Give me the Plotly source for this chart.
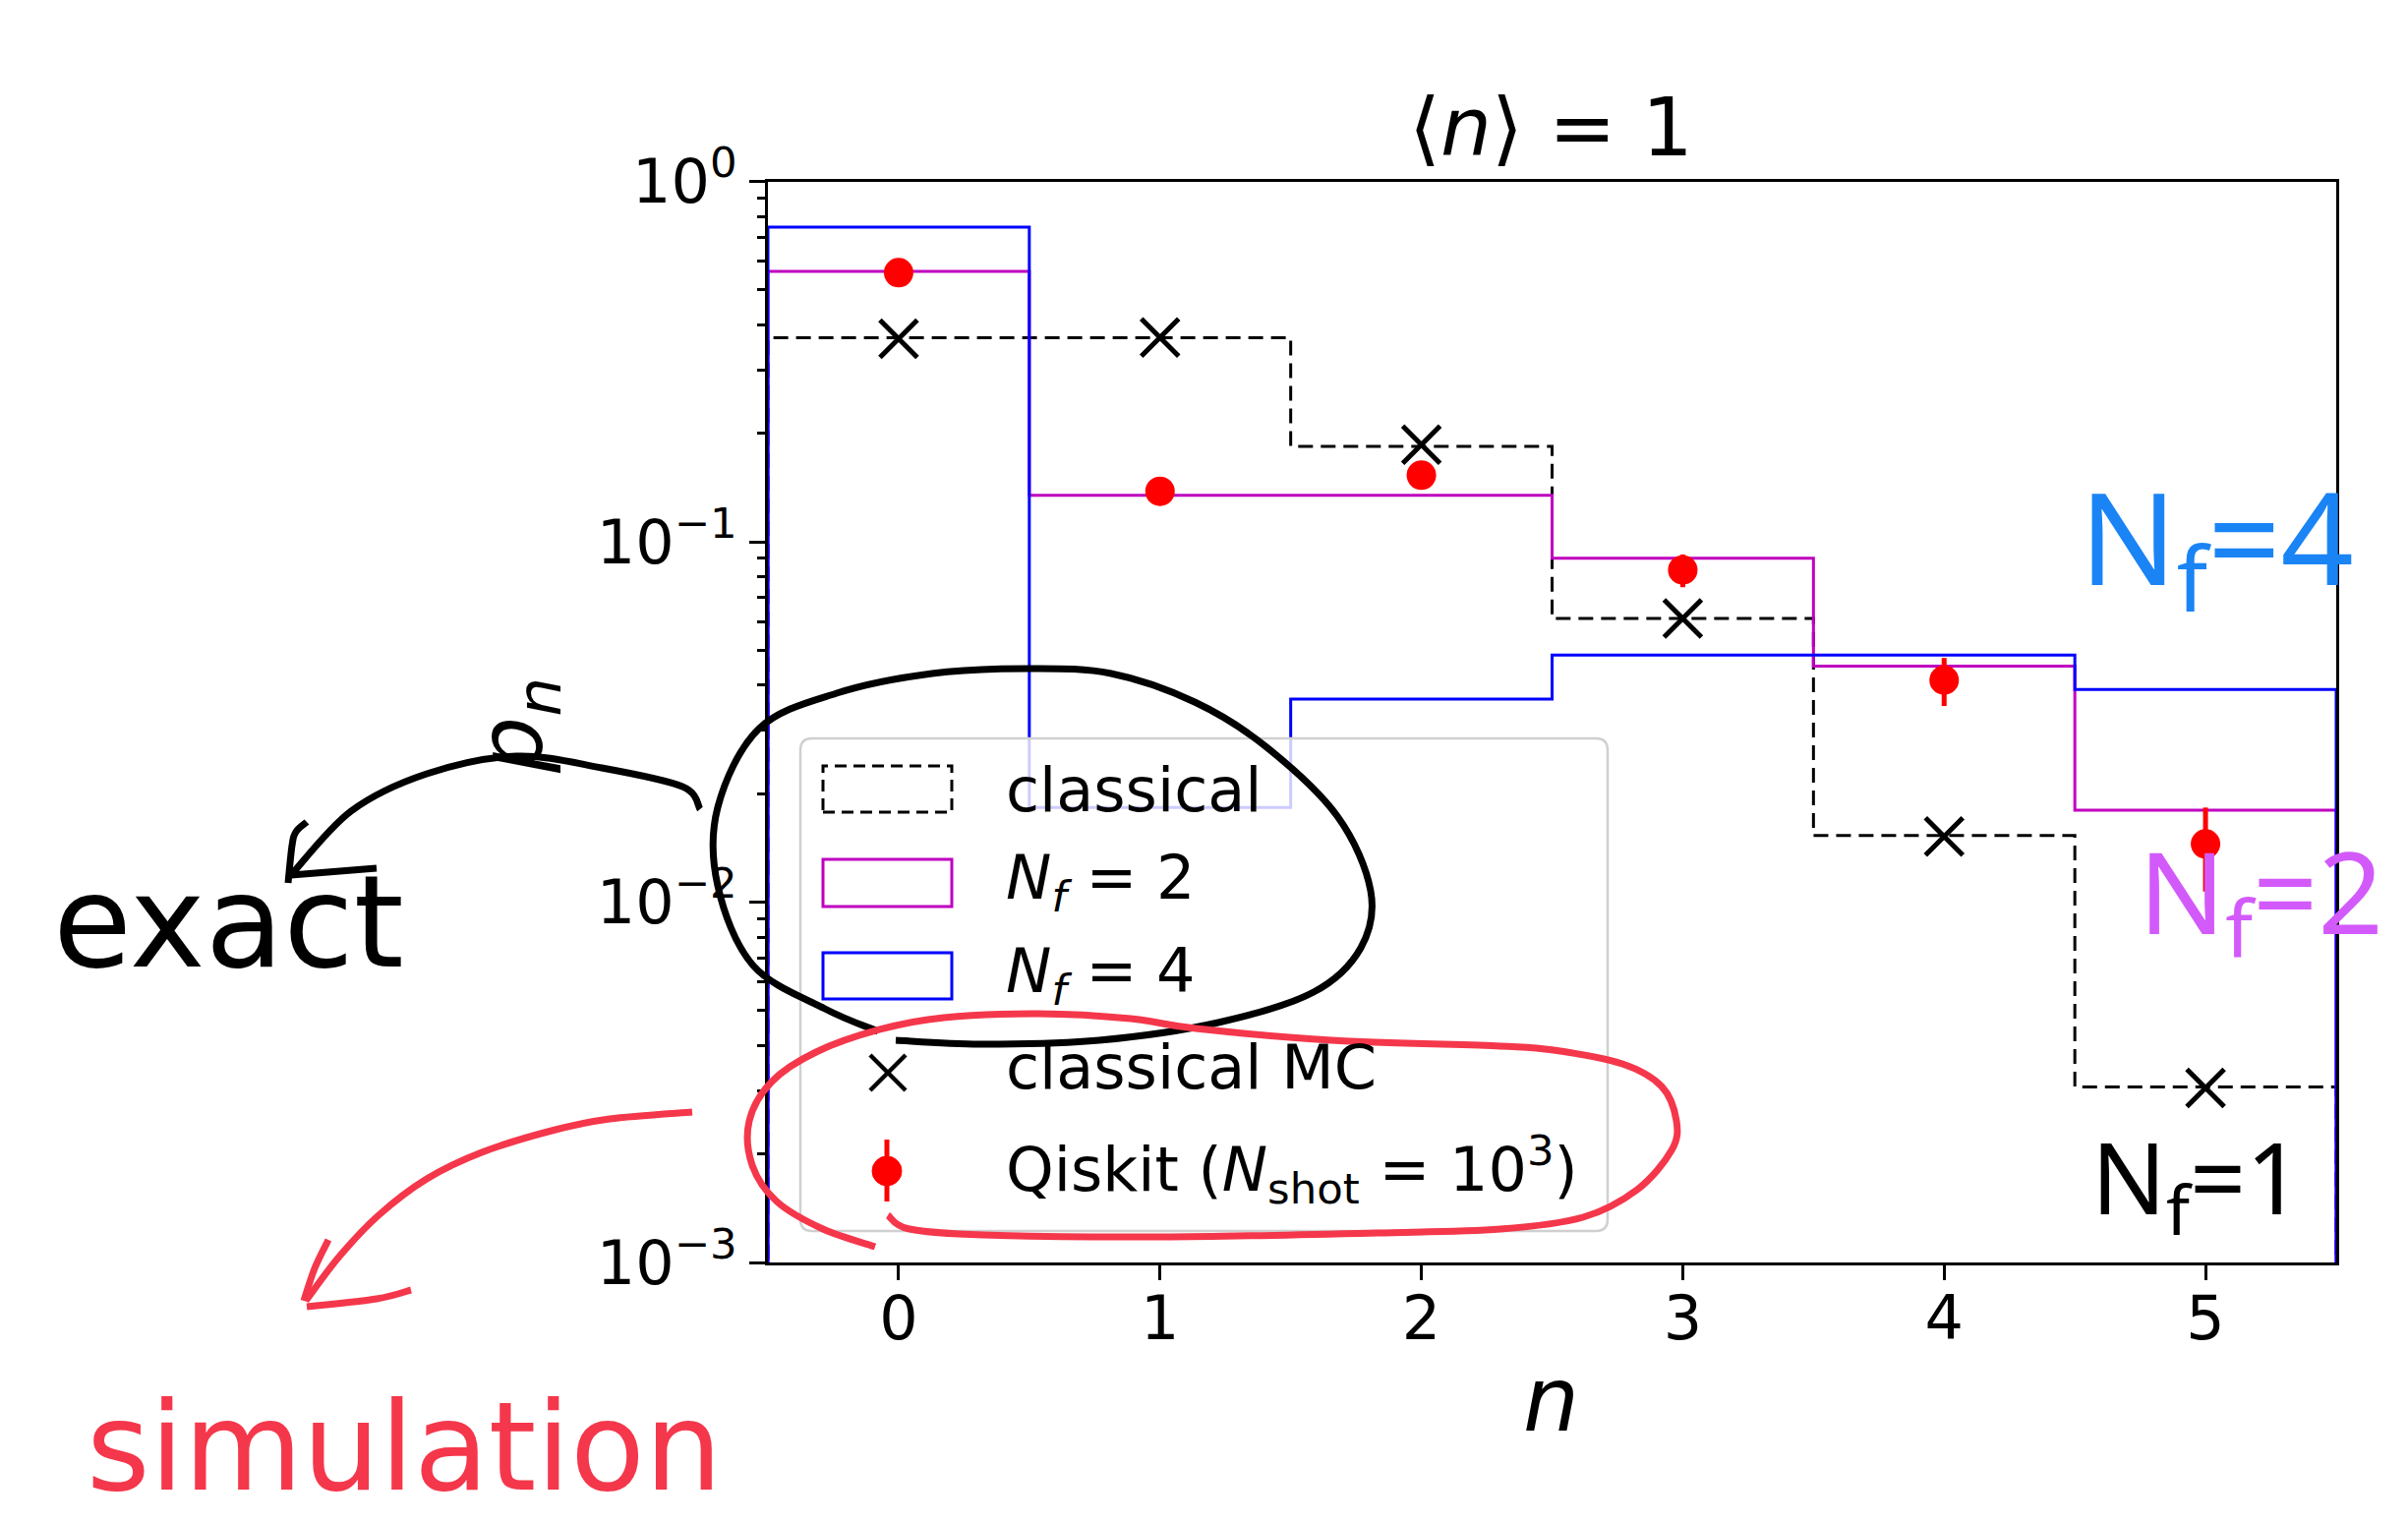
import plotly.graph_objects as go

# ---------------------------------------------------------------- data
n_vals = [0, 1, 2, 3, 4, 5]
bin_edges = [-0.5, 0.5, 1.5, 2.5, 3.5, 4.5, 5.5]

p_classical = [0.368, 0.368, 0.184, 0.0613, 0.0153, 0.00307]   # exact, N_f = 1
p_nf2 = [0.563, 0.1345, 0.1345, 0.0900, 0.0452, 0.0180]        # exact, N_f = 2
p_nf4 = [0.747, 0.0183, 0.0366, 0.0485, 0.0485, 0.0389]        # exact, N_f = 4
p_mc = [0.366, 0.369, 0.186, 0.0613, 0.0152, 0.00305]          # classical Monte Carlo
p_qiskit = [0.558, 0.138, 0.153, 0.0835, 0.0413, 0.0145]       # Qiskit, 10^3 shots
err_qiskit = [0.0157, 0.0109, 0.0114, 0.0087, 0.0063, 0.0038]

y_tickvals = [1e-3, 1e-2, 1e-1, 1.0]
y_ticktext = ["10<sup>\u22123</sup>", "10<sup>\u22122</sup>", "10<sup>\u22121</sup>", "10<sup>0</sup>"]

# ---------------------------------------------------------------- canvas
W, H = 2449, 1550
FONT = "DejaVu Sans"
HAND = "Noto Sans"
AX_L, AX_R, AX_T, AX_B = 781, 2376, 184.5, 1284

MAGENTA = "#BF00BF"
BLUE = "#0000FF"
RED = "#FF0000"
INK_RED = "#F5374B"
INK_BLUE = "#1A84F5"
INK_PURPLE = "#D35AFA"


def to_paper(x, y):
    return x / W, 1 - y / H


def step_outline(values, floor=1e-5):
    """Histogram-style outline (histtype='step') for use with line_shape='hv'."""
    xs = [bin_edges[0]] + bin_edges[:-1] + [bin_edges[-1], bin_edges[-1]]
    ys = [floor] + list(values) + [values[-1], floor]
    return xs, ys


def smooth_path(points):
    pts = [to_paper(x, y) for x, y in points]
    d = "M {:.5f},{:.5f}".format(*pts[0])
    for i in range(len(pts) - 1):
        p0 = pts[i - 1] if i > 0 else pts[i]
        p1 = pts[i]
        p2 = pts[i + 1]
        p3 = pts[i + 2] if i + 2 < len(pts) else p2
        c1 = (p1[0] + (p2[0] - p0[0]) / 6, p1[1] + (p2[1] - p0[1]) / 6)
        c2 = (p2[0] - (p3[0] - p1[0]) / 6, p2[1] - (p3[1] - p1[1]) / 6)
        d += " C {:.5f},{:.5f} {:.5f},{:.5f} {:.5f},{:.5f}".format(*c1, *c2, *p2)
    return d


def poly_path(points):
    pts = [to_paper(x, y) for x, y in points]
    return "M " + " L ".join("{:.5f},{:.5f}".format(*p) for p in pts)


def rounded_rect_path(x0, y0, x1, y1, r):
    a = to_paper
    d = "M {:.5f},{:.5f}".format(*a(x0 + r, y0))
    d += " L {:.5f},{:.5f}".format(*a(x1 - r, y0))
    d += " Q {:.5f},{:.5f} {:.5f},{:.5f}".format(*a(x1, y0), *a(x1, y0 + r))
    d += " L {:.5f},{:.5f}".format(*a(x1, y1 - r))
    d += " Q {:.5f},{:.5f} {:.5f},{:.5f}".format(*a(x1, y1), *a(x1 - r, y1))
    d += " L {:.5f},{:.5f}".format(*a(x0 + r, y1))
    d += " Q {:.5f},{:.5f} {:.5f},{:.5f}".format(*a(x0, y1), *a(x0, y1 - r))
    d += " L {:.5f},{:.5f}".format(*a(x0, y0 + r))
    d += " Q {:.5f},{:.5f} {:.5f},{:.5f} Z".format(*a(x0, y0), *a(x0 + r, y0))
    return d


fig = go.Figure()

# ---------------------------------------------------------------- step histograms
for vals, color, dash in [(p_classical, "black", "15px,8px"),
                          (p_nf2, MAGENTA, "solid"),
                          (p_nf4, BLUE, "solid")]:
    xs, ys = step_outline(vals)
    fig.add_trace(go.Scatter(x=xs, y=ys, mode="lines", line_shape="hv",
                             line=dict(color=color, width=3, dash=dash),
                             showlegend=False, hoverinfo="skip"))

# classical Monte Carlo
fig.add_trace(go.Scatter(x=n_vals, y=p_mc, mode="markers", showlegend=False,
                         marker=dict(symbol="x-thin", size=38, color="black",
                                     line=dict(color="black", width=5))))

# Qiskit simulation with statistical errors
fig.add_trace(go.Scatter(x=n_vals, y=p_qiskit, mode="markers", showlegend=False,
                         marker=dict(symbol="circle", size=30, color=RED),
                         error_y=dict(type="data", array=err_qiskit, color=RED,
                                      thickness=5, width=0)))

# ---------------------------------------------------------------- axes
fig.update_xaxes(domain=[AX_L / W, AX_R / W], range=[-0.5, 5.5],
                 tickvals=n_vals, ticks="outside", ticklen=15, tickwidth=3,
                 tickcolor="black", showline=True, linewidth=3, linecolor="black",
                 mirror=True, showgrid=False, zeroline=False, ticklabelstandoff=-14,
                 tickfont=dict(family=FONT, size=62, color="black"))
minor_vals = [m * 10.0 ** e for e in (-3, -2, -1) for m in range(2, 10)]
fig.update_yaxes(type="log", domain=[1 - AX_B / H, 1 - AX_T / H], range=[-3, 0],
                 tickvals=y_tickvals, ticktext=y_ticktext, ticks="outside",
                 ticklen=16, tickwidth=3, tickcolor="black",
                 showline=True, linewidth=3, linecolor="black", mirror=True,
                 showgrid=False, zeroline=False,
                 minor=dict(tickvals=minor_vals, ticks="outside", ticklen=8,
                            tickwidth=2.5, tickcolor="black", showgrid=False),
                 tickfont=dict(family=FONT, size=62, color="black"))

shapes = []
annotations = []


def text(x, y, s, size, color="black", family=FONT, angle=0, xanchor="center"):
    px, py = to_paper(x, y)
    annotations.append(dict(x=px, y=py, xref="paper", yref="paper", text=s,
                            showarrow=False, xanchor=xanchor, yanchor="middle",
                            textangle=angle,
                            font=dict(family=family, size=size, color=color)))


# title and axis labels
text(1577, 129, "\u27e8<i>n</i>\u27e9 = 1", 82)
text(1577, 1423, "<i>n</i>", 90)
text(526, 738, "<i>p</i><sub><i>n</i></sub>", 90, angle=-90)

# ---------------------------------------------------------------- legend
shapes.append(dict(type="path", xref="paper", yref="paper", layer="above",
                   path=rounded_rect_path(814, 751, 1635, 1252, 12),
                   fillcolor="rgba(255,255,255,0.8)",
                   line=dict(color="#D0D0D0", width=2.5)))


def rect(x0, y0, x1, y1, color, dash="solid"):
    a0 = to_paper(x0, y0)
    a1 = to_paper(x1, y1)
    shapes.append(dict(type="rect", xref="paper", yref="paper", layer="above",
                       x0=a0[0], y0=a1[1], x1=a1[0], y1=a0[1],
                       line=dict(color=color, width=3, dash=dash)))


def seg(x0, y0, x1, y1, color, width):
    a0 = to_paper(x0, y0)
    a1 = to_paper(x1, y1)
    shapes.append(dict(type="line", xref="paper", yref="paper", layer="above",
                       x0=a0[0], y0=a0[1], x1=a1[0], y1=a1[1],
                       line=dict(color=color, width=width)))


rect(837, 779, 968, 826, "black", "12px,7px")
rect(837, 874, 968, 922, MAGENTA)
rect(837, 969, 968, 1016, BLUE)
seg(885, 1073, 921, 1109, "black", 4.5)
seg(885, 1109, 921, 1073, "black", 4.5)
seg(902, 1159, 902, 1222, RED, 5)
c0 = to_paper(887, 1176)
c1 = to_paper(917, 1206)
shapes.append(dict(type="circle", xref="paper", yref="paper", layer="above",
                   x0=c0[0], y0=c1[1], x1=c1[0], y1=c0[1],
                   fillcolor=RED, line=dict(color=RED, width=1)))

LEG = 62
text(1021, 803, "classical", LEG, xanchor="left")
text(1021, 896, "<i>N</i><sub><i>f</i></sub> = 2", LEG, xanchor="left")
text(1021, 991, "<i>N</i><sub><i>f</i></sub> = 4", LEG, xanchor="left")
text(1021, 1085, "classical MC", LEG, xanchor="left")
text(1021, 1189, "Qiskit (<i>N</i><sub>shot</sub> = 10<sup>3</sup>)", LEG, xanchor="left")

# ---------------------------------------------------------------- ink notes
def ink(points, color, width=7, smooth=True):
    shapes.append(dict(type="path", xref="paper", yref="paper", layer="above",
                       path=smooth_path(points) if smooth else poly_path(points),
                       line=dict(color=color, width=width)))


# loop around the exact curves
ink([(893, 1049), (839, 1026), (766, 982), (730, 901), (730, 821), (772, 741),
     (851, 705), (948, 685), (1045, 680), (1130, 685), (1215, 714), (1287, 759),
     (1360, 830), (1394, 906), (1384, 964), (1336, 1009), (1239, 1040),
     (1118, 1058), (997, 1062), (911, 1058)], "black")
ink([(712, 823), (694, 800), (612, 781), (525, 769), (434, 787), (357, 825),
     (296, 890)], "black")
ink([(293, 898), (297, 860), (301, 846), (312, 836)], "black")
ink([(296, 890), (383, 883)], "black", smooth=False)
text(232, 938, "exact", 130, "black", FONT)

# loop around the sampled results
ink([(903, 1236), (925, 1250), (1000, 1256), (1182, 1258), (1400, 1254),
     (1526, 1250), (1610, 1238), (1665, 1210), (1700, 1170), (1705, 1140),
     (1690, 1105), (1650, 1082), (1580, 1068), (1526, 1064), (1354, 1058),
     (1216, 1046), (1150, 1036), (1056, 1031), (960, 1035), (895, 1047),
     (830, 1070), (785, 1100), (762, 1140), (765, 1185), (790, 1222),
     (837, 1250), (890, 1268)], INK_RED)
ink([(704, 1131), (620, 1138), (561, 1150), (490, 1172), (434, 1199),
     (385, 1236), (345, 1278), (311, 1323)], INK_RED)
ink([(309, 1323), (320, 1290), (334, 1261)], INK_RED)
ink([(312, 1329), (383, 1321), (418, 1312)], INK_RED)
text(411, 1472, "simulation", 124, INK_RED, FONT)

# curve labels
text(2254, 553, "N<sub>f</sub>=4", 130, INK_BLUE, HAND)
text(2299, 912, "N<sub>f</sub>=2", 116, INK_PURPLE, HAND)
text(2234, 1202, "N<sub>f</sub>=1", 100, "black", HAND)

fig.update_layout(width=W, height=H, autosize=False,
                  margin=dict(l=0, r=0, t=0, b=0, autoexpand=False),
                  paper_bgcolor="white", plot_bgcolor="white",
                  showlegend=False, shapes=shapes, annotations=annotations,
                  font=dict(family=FONT, color="black"))

fig.write_html("out.html")
